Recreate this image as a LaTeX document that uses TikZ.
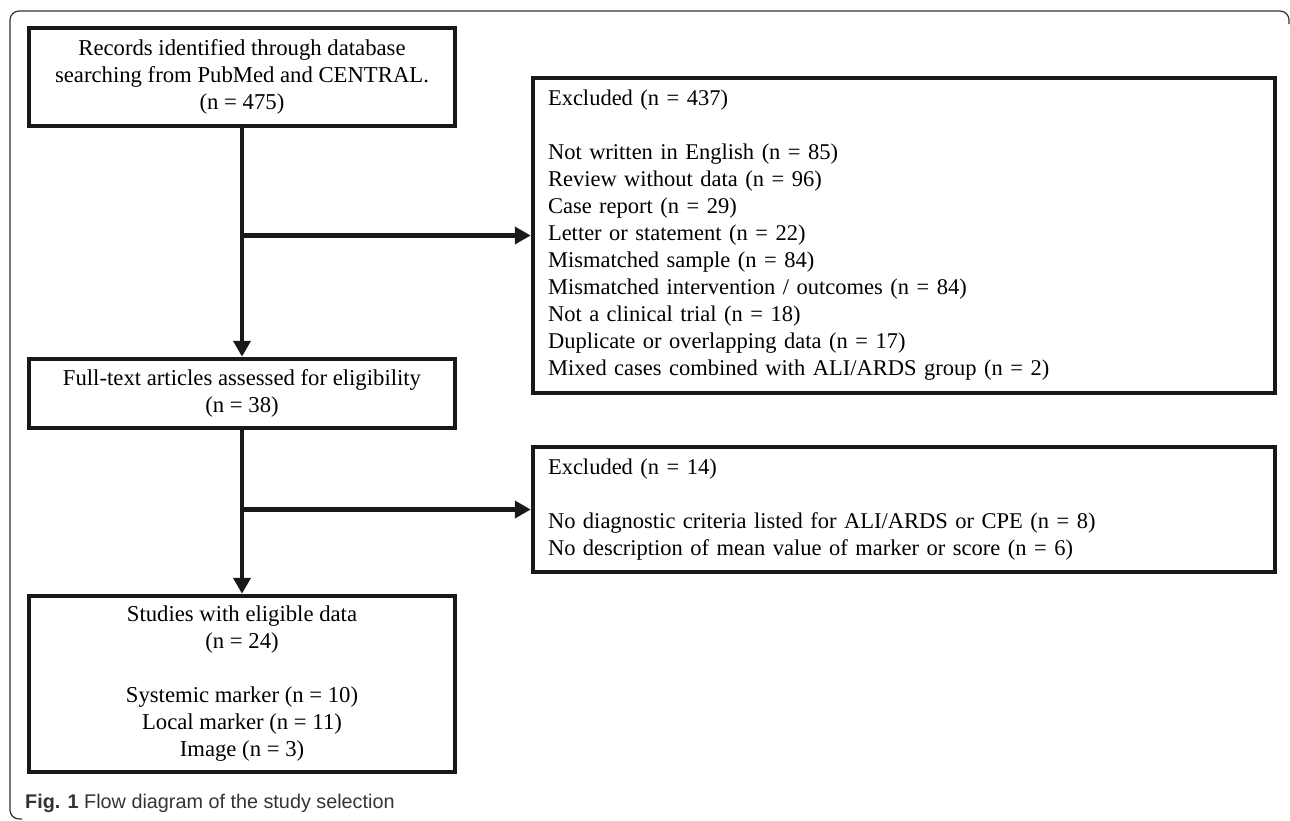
\documentclass[tikz,border=0pt]{standalone}
\usepackage{fontspec}
\setmainfont{Liberation Serif}
\newfontfamily\capfont{Liberation Sans}
\usetikzlibrary{arrows.meta}

\begin{document}
\begin{tikzpicture}[x=1pt,y=-1pt,
    box/.style={draw=black!90,line width=4.5pt,align=center,inner sep=0pt,
        minimum width=426pt,font=\fontsize{22.7}{27}\selectfont},
    exbox/.style={draw=black!90,line width=4.5pt,align=left,text width=712pt,
        inner xsep=15pt,inner ysep=0pt,font=\fontsize{22.5}{27}\selectfont},
    arr/.style={draw=black!90,line width=4.5pt,-{Triangle[length=16pt,width=17pt]}}]
\useasboundingbox (0,0) rectangle (1290,820);
% Moldura
\draw[line width=1.2pt,black!80,rounded corners=9pt]
    (22,819) -- (10,819) -- (10,11) -- (1289,11) -- (1289,24);
% Caixas principais
\node[box,minimum height=98pt] (rec) at (242,77)
    {Records identified through database\\searching from PubMed and CENTRAL.\\(n = 475)};
\node[box,minimum height=69pt] (full) at (242,393.5)
    {Full-text articles assessed for eligibility\\(n = 38)};
\node[box,minimum height=176pt] (elig) at (242,684)
    {Studies with eligible data\\(n = 24)\\[27pt]Systemic marker (n = 10)\\Local marker (n = 11)\\Image (n = 3)};
% Excluidos
\node[exbox,minimum height=315pt] (exA) at (904,235.5)
    {Excluded (n = 437)\\[27pt]Not written in English (n = 85)\\Review without data (n = 96)\\Case report (n = 29)\\Letter or statement (n = 22)\\Mismatched sample (n = 84)\\Mismatched intervention / outcomes (n = 84)\\Not a clinical trial (n = 18)\\Duplicate or overlapping data (n = 17)\\Mixed cases combined with ALI/ARDS group (n = 2)};
\node[exbox,minimum height=125pt] (exB) at (904,509.5)
    {Excluded (n = 14)\\[27pt]No diagnostic criteria listed for ALI/ARDS or CPE (n = 8)\\No description of mean value of marker or score (n = 6)};
% Setas
\draw[arr] (rec) -- (full);
\draw[arr] (rec.south |- exA.west) -- (exA.west);
\draw[arr] (full) -- (elig);
\draw[arr] (full.south |- exB.west) -- (exB.west);
% Legenda
\node[anchor=base west,inner sep=0pt,text=black!80,font=\capfont\fontsize{19.8}{22}\selectfont] (cap) at (25,808)
    {\textbf{Fig. 1} Flow diagram of the study selection};
\end{tikzpicture}
\end{document}
